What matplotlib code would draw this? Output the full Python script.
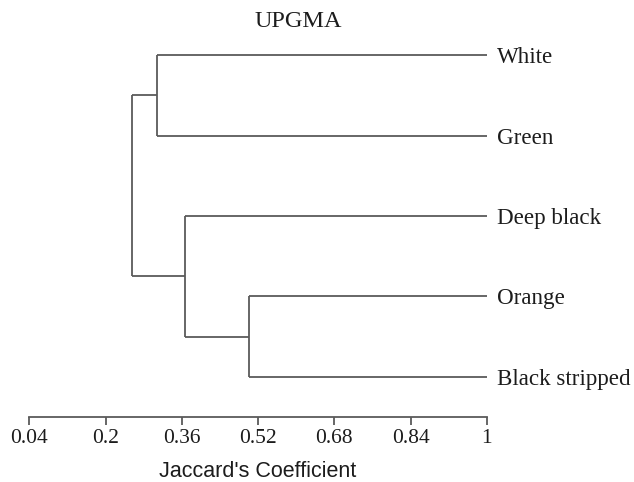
import matplotlib
matplotlib.use("Agg")
import matplotlib.pyplot as plt

# leaves, top to bottom
leaves = ["White", "Green", "Deep black", "Orange", "Black stripped"]

# UPGMA merges: (left child, right child, similarity at the join)
merges = [
    ("White", "Green", 0.307),
    ("Orange", "Black stripped", 0.500),
    ("Deep black", "Orange+Black stripped", 0.366),
    ("White+Green", "Deep black+Orange+Black stripped", 0.256),
]

ticks = [0.04, 0.2, 0.36, 0.52, 0.68, 0.84, 1]
tick_labels = ["0.04", "0.2", "0.36", "0.52", "0.68", "0.84", "1"]

line_col = "#5a5a5a"
text_col = "#1c1c1c"

fig = plt.figure(figsize=(6.34, 4.82), dpi=100)
ax = fig.add_axes([0.0465, 0.1349, 0.7212, 0.834])

# node positions: name -> (x, y)
nodes = {}
for i, name in enumerate(leaves):
    nodes[name] = (1.0, len(leaves) - i)

for a, b, h in merges:
    xa, ya = nodes[a]
    xb, yb = nodes[b]
    ax.plot([xa, h], [ya, ya], color=line_col, lw=1.3, solid_capstyle="butt")
    ax.plot([xb, h], [yb, yb], color=line_col, lw=1.3, solid_capstyle="butt")
    ax.plot([h, h], [ya, yb], color=line_col, lw=1.3, solid_capstyle="butt")
    nodes[a + "+" + b] = (h, (ya + yb) / 2)

for i, name in enumerate(leaves):
    ax.text(1.021, len(leaves) - i, name, ha="left", va="center_baseline",
            fontsize=16.6, family="Liberation Serif", color=text_col,
            clip_on=False)

ax.set_xlim(0.04, 1)
ax.set_ylim(0.5, 5.5)
ax.set_xticks(ticks)
ax.set_xticklabels(tick_labels, family="Liberation Serif", fontsize=15.5,
                   color=text_col)
ax.set_yticks([])
for s in ["top", "left", "right"]:
    ax.spines[s].set_visible(False)
ax.spines["bottom"].set_color(line_col)
ax.spines["bottom"].set_linewidth(1.3)
ax.tick_params(axis="x", direction="out", length=6, width=1.3,
               color=line_col, pad=3)

ax.set_xlabel("Jaccard's Coefficient", family="Liberation Sans",
              fontsize=15.5, color=text_col, labelpad=9)

fig.text(0.471, 0.956, "UPGMA", ha="center", va="center",
         family="Liberation Serif", fontsize=17.5, color=text_col)

fig.savefig("out.png", dpi=100)
